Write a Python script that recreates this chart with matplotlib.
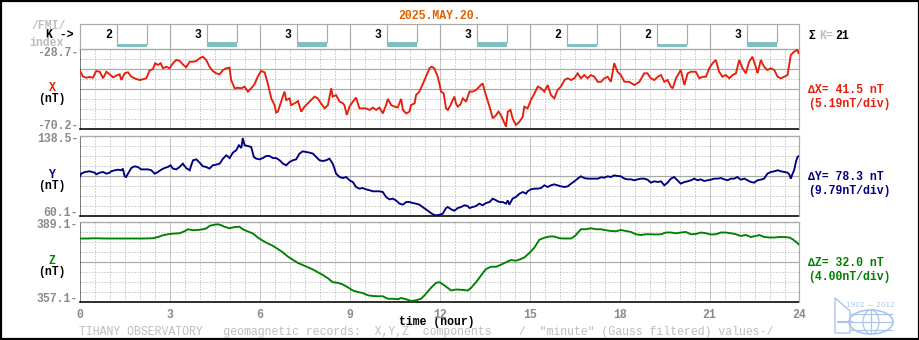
import matplotlib
matplotlib.use("Agg")
import matplotlib.pyplot as plt
from matplotlib.patches import Rectangle, Ellipse, Polygon

# ---------------- data ----------------
date_label = "2025.MAY.20."
k_index = [2, 3, 3, 3, 3, 2, 2, 3]
hour_ticks = [0, 3, 6, 9, 12, 15, 18, 21, 24]

x_limits = (-70.2, -28.7)
y_limits = (60.1, 138.5)
z_limits = (357.1, 389.1)
range_labels = ["41.5", "78.3", "32.0"]
div_labels = ["5.19", "9.79", "4.00"]

x_hours = [0.00, 0.10, 0.21, 0.32, 0.43, 0.54, 0.66, 0.77, 0.88, 0.99, 1.10, 1.21, 1.32, 1.38, 1.49, 1.60,
           1.71, 1.82, 1.99, 2.10, 2.21, 2.32, 2.43, 2.51, 2.60, 2.69, 2.77, 2.88, 2.99, 3.10, 3.21, 3.32,
           3.43, 3.54, 3.66, 3.77, 3.88, 3.99, 4.10, 4.21, 4.32, 4.43, 4.54, 4.66, 4.77, 4.88, 4.99, 5.04,
           5.16, 5.27, 5.38, 5.49, 5.60, 5.71, 5.82, 5.93, 6.04, 6.16, 6.27, 6.38, 6.49, 6.54, 6.60, 6.71,
           6.82, 6.88, 6.99, 7.04, 7.16, 7.27, 7.38, 7.49, 7.60, 7.71, 7.82, 7.93, 8.04, 8.16, 8.27, 8.38,
           8.43, 8.54, 8.66, 8.77, 8.82, 8.90, 8.99, 9.10, 9.21, 9.32, 9.43, 9.54, 9.66, 9.77, 9.88, 9.99,
           10.10, 10.21, 10.27, 10.38, 10.49, 10.60, 10.71, 10.77, 10.88, 10.99, 11.04, 11.16, 11.21, 11.32,
           11.43, 11.54, 11.66, 11.73, 11.82, 11.93,
           12.00, 12.04, 12.13, 12.21, 12.27, 12.36, 12.43, 12.49, 12.54, 12.60, 12.69, 12.77, 12.88, 12.99,
           13.10, 13.21, 13.32, 13.43, 13.54, 13.66, 13.77, 13.88, 13.96, 14.04, 14.16, 14.21, 14.27, 14.36,
           14.43, 14.54, 14.66, 14.77, 14.82, 14.93, 15.04, 15.16, 15.27, 15.38, 15.49, 15.60, 15.71, 15.82,
           15.93, 16.04, 16.16, 16.27, 16.38, 16.49, 16.60, 16.71, 16.82, 16.93, 17.04, 17.16, 17.27, 17.38,
           17.49, 17.60, 17.71, 17.82, 17.93, 18.04, 18.16, 18.32, 18.49, 18.66, 18.82, 18.93, 19.04, 19.16,
           19.27, 19.38, 19.49, 19.60, 19.71, 19.77, 19.88, 20.04, 20.16, 20.27, 20.38, 20.54, 20.66, 20.77,
           20.88, 20.99, 21.10, 21.21, 21.32, 21.43, 21.54, 21.66, 21.77, 21.88, 21.99, 22.10, 22.21, 22.32,
           22.43, 22.54, 22.60, 22.71, 22.82, 22.93, 23.04, 23.16, 23.27, 23.38, 23.49, 23.60, 23.71, 23.82,
           23.93, 23.97]
x_values = [-40.1, -43.0, -43.6, -43.2, -43.6, -40.1, -40.5, -43.9, -40.5, -41.8, -43.4, -42.5, -41.8, -44.8, -41.3, -40.8,
            -43.0, -43.9, -44.8, -44.4, -43.9, -39.9, -39.1, -36.1, -37.0, -36.1, -38.7, -37.9, -38.7, -36.1, -34.4, -34.8,
            -36.7, -38.2, -35.3, -35.3, -34.9, -33.5, -32.7, -34.4, -37.9, -40.1, -41.3, -41.8, -39.6, -38.7, -38.4, -44.8,
            -49.1, -48.8, -49.1, -48.2, -50.8, -49.1, -47.0, -43.0, -40.1, -40.8, -47.0, -54.3, -57.8, -61.7, -61.2, -56.0,
            -50.8, -55.2, -54.3, -57.8, -56.9, -55.7, -61.2, -58.6, -56.9, -55.2, -53.4, -54.3, -56.9, -59.5, -57.8, -49.1,
            -53.4, -52.6, -56.0, -56.9, -57.8, -62.9, -58.6, -56.0, -53.9, -59.5, -59.5, -59.5, -60.3, -59.1, -60.3, -59.1,
            -62.1, -57.8, -54.6, -57.8, -58.6, -59.0, -54.6, -60.3, -62.1, -61.2, -57.8, -56.9, -52.6, -50.8,
            -47.0, -43.0, -38.7, -37.9, -38.7, -43.0,
            -47.4, -50.8, -51.7, -59.5, -60.3, -57.8, -55.2, -53.4, -56.9, -58.6, -57.4, -54.3, -56.0, -50.8,
            -50.8, -50.0, -48.2, -46.5, -52.6, -58.6, -64.7, -63.0, -61.2, -63.0, -67.3, -69.0, -61.2, -60.3,
            -64.7, -68.1, -66.4, -63.8, -58.6, -59.5, -55.2, -51.7, -48.2, -49.1, -50.8, -47.4, -52.6, -54.3,
            -50.0, -48.2, -44.8, -43.9, -44.8, -43.9, -41.3, -43.9, -42.2, -43.9, -42.2, -43.1, -45.7, -45.7,
            -43.9, -43.1, -45.7, -36.1, -40.5, -42.2, -45.7, -45.7, -47.4, -45.7, -41.3, -41.3, -43.9, -44.8,
            -43.1, -42.2, -45.7, -44.8, -48.2, -49.1, -43.9, -39.6, -47.4, -41.3, -40.5, -40.5, -43.9, -43.1,
            -43.1, -38.7, -36.1, -34.4, -40.5, -43.1, -42.2, -43.9, -42.2, -41.3, -34.4, -38.7, -41.3, -35.3,
            -32.7, -37.9, -41.3, -34.4, -37.9, -39.6, -38.7, -39.6, -43.1, -43.9, -43.1, -42.2, -31.8, -30.1,
            -29.2, -30.9]

y_hours = [0.00, 0.04, 0.16, 0.32, 0.49, 0.54, 0.66, 0.77, 0.88, 0.99, 1.04, 1.16, 1.27, 1.38, 1.43, 1.49,
           1.54, 1.60, 1.71, 1.82, 1.93, 2.04, 2.16, 2.27, 2.38, 2.49, 2.60, 2.71, 2.82, 2.93, 3.02, 3.10,
           3.21, 3.32, 3.43, 3.54, 3.66, 3.71, 3.77, 3.88, 3.99, 4.10, 4.21, 4.32, 4.43, 4.54, 4.66, 4.77,
           4.88, 4.99, 5.10, 5.21, 5.30, 5.38, 5.43, 5.49, 5.60, 5.71, 5.80, 5.88, 5.99, 6.10, 6.21, 6.32,
           6.43, 6.54, 6.66, 6.77, 6.88, 6.99, 7.10, 7.21, 7.32, 7.43, 7.54, 7.66, 7.77, 7.88, 7.99, 8.10,
           8.21, 8.32, 8.43, 8.49, 8.54, 8.66, 8.77, 8.88, 8.99, 9.10, 9.21, 9.32, 9.43, 9.54, 9.66, 9.77,
           9.88, 9.99, 10.10, 10.21, 10.32, 10.43, 10.54, 10.66, 10.77, 10.88, 10.99, 11.10, 11.21, 11.32,
           11.43, 11.54, 11.66, 11.77, 11.88,
           12.00, 12.10, 12.21, 12.27, 12.38, 12.49, 12.60, 12.71, 12.82, 12.93, 12.99, 13.10, 13.21, 13.32,
           13.43, 13.54, 13.66, 13.77, 13.88, 13.99, 14.10, 14.21, 14.27, 14.32, 14.43, 14.54, 14.66, 14.77,
           14.88, 14.93, 15.04, 15.16, 15.27, 15.38, 15.49, 15.60, 15.71, 15.82, 15.93, 16.04, 16.16, 16.27,
           16.38, 16.49, 16.60, 16.71, 16.82, 16.93, 17.04, 17.16, 17.27, 17.38, 17.49, 17.60, 17.71, 17.82,
           17.93, 18.04, 18.16, 18.27, 18.38, 18.49, 18.60, 18.71, 18.82, 18.93, 19.04, 19.16, 19.27, 19.38,
           19.49, 19.60, 19.71, 19.82, 19.93, 20.04, 20.16, 20.27, 20.38, 20.49, 20.60, 20.71, 20.82, 20.93,
           21.04, 21.16, 21.27, 21.38, 21.49, 21.60, 21.71, 21.82, 21.93, 22.04, 22.16, 22.27, 22.38, 22.49,
           22.60, 22.71, 22.82, 22.93, 23.04, 23.16, 23.27, 23.38, 23.49, 23.60, 23.66, 23.71, 23.77, 23.82,
           23.88, 23.93, 23.99]
y_values = [99.0, 101.6, 103.2, 103.9, 102.6, 100.9, 102.6, 103.2, 101.6, 102.6, 103.9, 104.9, 105.5, 104.9, 106.5, 99.0,
            98.3, 101.6, 107.1, 108.8, 108.1, 105.8, 105.8, 105.8, 104.9, 101.6, 103.2, 105.5, 107.1, 108.1, 109.8, 106.5,
            105.8, 108.1, 111.4, 107.1, 104.9, 109.8, 114.7, 115.6, 112.4, 108.8, 108.1, 106.5, 109.8, 110.4, 111.4, 116.3,
            119.6, 116.9, 122.2, 124.5, 129.4, 126.7, 136.5, 129.4, 128.7, 127.7, 117.9, 116.3, 115.6, 116.9, 118.9, 118.9,
            116.9, 116.9, 114.7, 111.4, 109.8, 113.0, 114.7, 115.6, 121.2, 123.5, 122.8, 122.2, 121.2, 117.9, 114.7, 114.0,
            114.7, 116.3, 111.4, 106.5, 101.6, 98.3, 97.3, 98.3, 95.1, 93.4, 88.5, 86.9, 87.5, 86.2, 85.3, 84.3,
            84.3, 84.3, 83.6, 78.7, 76.4, 77.1, 75.4, 72.2, 71.2, 73.8, 73.8, 72.8, 72.2, 71.2,
            68.9, 66.6, 64.0, 61.7, 60.7,
            61.4, 62.4, 67.9, 68.9, 66.6, 65.3, 67.9, 68.9, 70.6, 69.9, 67.9, 68.9, 69.9, 72.2,
            70.6, 72.8, 73.8, 77.1, 75.4, 73.8, 73.8, 72.2, 75.4, 71.2, 77.1, 78.7, 82.0, 83.6,
            82.0, 84.3, 86.2, 86.9, 86.9, 87.5, 90.2, 88.5, 90.2, 91.1, 90.2, 89.2, 88.5, 89.2,
            91.8, 94.1, 96.7, 99.0, 97.3, 96.7, 96.7, 96.7, 96.7, 98.0, 97.7, 99.0, 98.3, 99.9,
            99.3, 99.0, 96.7, 96.0, 96.0, 95.1, 96.0, 96.7, 96.7, 95.7, 92.8, 94.1, 93.4, 94.1,
            90.2, 92.8, 96.7, 98.3, 95.1, 91.8, 93.4, 94.1, 95.1, 96.7, 95.1, 96.0, 94.4, 95.1,
            95.7, 96.7, 96.7, 97.3, 96.0, 95.1, 96.7, 96.7, 98.3, 95.7, 96.7, 95.1, 93.4, 92.8,
            95.1, 95.7, 96.7, 101.6, 103.2, 103.9, 104.9, 103.9, 103.2, 102.6, 100.9, 96.7, 101.6, 104.9,
            113.0, 117.9, 118.9]

z_hours = [0.00, 0.27, 0.49, 0.82, 1.16, 1.38, 1.71, 2.16, 2.43, 2.60, 2.77, 2.93, 3.16, 3.32, 3.49, 3.60,
           3.77, 3.93, 4.10, 4.21, 4.32, 4.43, 4.60, 4.71, 4.82, 4.99, 5.16, 5.32, 5.43, 5.60, 5.77, 5.93,
           6.10, 6.27, 6.43, 6.60, 6.77, 6.93, 7.10, 7.27, 7.43, 7.60, 7.77, 7.93, 8.10, 8.27, 8.43, 8.60,
           8.77, 8.93, 9.10, 9.27, 9.43, 9.60, 9.77, 9.93, 10.10, 10.27, 10.43, 10.60, 10.71, 10.88, 11.04, 11.21,
           11.38, 11.54, 11.71, 11.88,
           12.00, 12.16, 12.38, 12.54, 12.71, 12.93, 13.04, 13.21, 13.38, 13.54, 13.71, 13.88, 14.04, 14.21,
           14.38, 14.54, 14.71, 14.82, 14.99, 15.16, 15.32, 15.49, 15.66, 15.82, 15.99, 16.16, 16.38, 16.51,
           16.66, 16.71, 16.88, 17.04, 17.21, 17.38, 17.54, 17.71, 17.88, 18.04, 18.21, 18.38, 18.54, 18.71,
           18.88, 19.04, 19.21, 19.38, 19.54, 19.71, 19.88, 20.04, 20.21, 20.38, 20.54, 20.71, 20.88, 21.04,
           21.21, 21.38, 21.54, 21.71, 21.88, 22.04, 22.21, 22.38, 22.54, 22.66, 22.82, 22.99, 23.16, 23.32,
           23.49, 23.66, 23.77, 23.88, 23.99]
z_values = [382.5, 382.5, 382.6, 382.5, 382.5, 382.5, 382.5, 382.5, 382.6, 383.1, 383.8, 384.2, 384.5, 384.6, 385.4, 386.2,
            385.8, 385.9, 386.2, 386.5, 387.5, 387.9, 388.2, 387.8, 387.2, 386.6, 387.1, 387.2, 386.2, 385.3, 384.5, 382.9,
            381.6, 380.5, 379.6, 378.3, 376.9, 375.3, 374.0, 372.7, 371.9, 371.0, 370.1, 369.0, 367.9, 366.6, 365.0, 364.8,
            364.1, 363.0, 361.7, 361.1, 360.7, 359.8, 359.5, 359.4, 359.4, 358.4, 358.4, 358.2, 358.7, 358.2, 357.5, 357.8,
            358.4, 360.4, 362.8, 364.8,
            365.0, 363.7, 361.7, 362.1, 362.0, 361.7, 362.7, 365.0, 367.7, 370.3, 371.2, 371.2, 372.0, 373.0,
            373.9, 373.6, 374.3, 374.9, 376.7, 378.9, 382.0, 382.8, 383.3, 383.3, 382.6, 382.5, 382.5, 383.5,
            385.5, 386.2, 386.2, 386.6, 386.2, 386.2, 385.8, 385.5, 385.4, 385.9, 385.5, 385.1, 384.2, 383.9,
            384.2, 384.2, 384.1, 384.2, 384.9, 384.9, 384.6, 384.9, 385.1, 384.2, 384.3, 384.9, 384.6, 384.1,
            384.2, 384.9, 384.9, 384.6, 384.2, 383.5, 383.9, 383.1, 383.5, 383.9, 383.1, 382.9, 382.9, 383.1,
            383.1, 382.9, 382.2, 381.2, 380.0]

# ---------------- styling ----------------
W, H = 920, 340
MONO = ["Liberation Mono", "DejaVu Sans Mono"]
FS = 8.3
GRID = "#aaaaaa"
TICKGREY = "#8a8a8a"
LIGHT = "#bdbdbd"
RED, NAVY, GREEN = "#e4200c", "#000080", "#008000"
TEAL = "#80c0c0"
PX = 0.72  # one pixel in points

fig = plt.figure(figsize=(W / 100, H / 100), dpi=100)
fig.patch.set_facecolor("white")

# pixel overlay for texts, border, logo
bg = fig.add_axes([0, 0, 1, 1], zorder=0)
bg.set_xlim(0, W)
bg.set_ylim(H, 0)
bg.axis("off")

L, R = 80, 799.5


def axes_px(top, bottom):
    a = fig.add_axes([L / W, 1 - bottom / H, (R - L) / W, (bottom - top) / H], zorder=2)
    a.patch.set_alpha(0)
    for s in a.spines.values():
        s.set_visible(False)
    a.set_xlim(0, 24)
    a.set_xticks([])
    a.set_yticks([])
    return a


def txt(x, y, s, color="black", ha="center", weight="bold", size=FS):
    bg.text(x, y, s, color=color, ha=ha, va="center", family=MONO, weight=weight, size=size)


# ---- K-index strip ----
ak = axes_px(24, 49)
ak.set_ylim(0, 25)
ak.axhline(25, color=GRID, lw=1.2 * PX, clip_on=False)
for i, k in enumerate(k_index):
    t0 = 3 * i
    ak.plot([t0, t0], [0, 25], color=GRID, lw=1.2 * PX, clip_on=False)
    bar_h = 2 * k - 1
    ak.add_patch(Rectangle((t0 + 1.25, 2), 1.0, bar_h, color=TEAL, lw=0))
    for e in (1.25, 2.25):
        ak.plot([t0 + e, t0 + e], [2 + bar_h, 25], color=GRID, lw=1.2 * PX)
    ak.text(t0 + 0.95, 14, str(k), ha="center", va="center", family=MONO, weight="bold", size=FS)
ak.plot([24, 24], [0, 25], color=GRID, lw=1.2 * PX, clip_on=False)

# ---- panels ----
panels = [
    (49, 129, x_limits, x_hours, x_values, RED, "X", [4, 6]),
    (136, 216, y_limits, y_hours, y_values, NAVY, "Y", [4]),
    (222, 302, z_limits, z_hours, z_values, GREEN, "Z", [4]),
]
axes = []
for top, bottom, lim, hrs, vals, col, name, solid in panels:
    a = axes_px(top, bottom)
    lo, hi = lim
    a.set_ylim(lo, hi)
    step = (hi - lo) / 8
    for kk in range(1, 8):
        yv = lo + kk * step
        if kk in solid:
            a.axhline(yv, color=GRID, lw=1.2 * PX, zorder=1)
        else:
            a.axhline(yv, color=GRID, lw=PX, ls=(0, (1, 2)), zorder=1)
    for hh in range(1, 48):
        h = hh / 2
        if hh % 6 == 0:
            a.axvline(h, color="#8c8c8c", lw=PX, ls=(0, (1, 1)), zorder=1)
        else:
            a.axvline(h, color=GRID, lw=PX, ls=(0, (1, 2)), zorder=1)
    a.axhline(hi, color=GRID, lw=1.4 * PX, clip_on=False, zorder=1)
    a.axhline(lo, color="black", lw=1.6 * PX, clip_on=False, zorder=1)
    a.axvline(0, color="black", lw=PX, ls=(0, (1, 1)), clip_on=False, zorder=1)
    a.axvline(24, color=GRID, lw=1.2 * PX, clip_on=False, zorder=1)
    a.plot(hrs, vals, color=col, lw=1.35, zorder=3, solid_joinstyle="miter")
    # left labels
    txt(78, top + 3.5, f"{hi:.1f}-", color=TICKGREY, ha="right")
    txt(78, bottom - 3, f"{lo:.1f}-", color=TICKGREY, ha="right")
    mid = (top + bottom) / 2
    txt(52, mid - 1, name, color=col)
    txt(52, mid + 10, "(nT)")
    axes.append(a)

az = axes[2]
az.set_xticks(hour_ticks)
az.set_xticklabels([str(h) for h in hour_ticks], color=TICKGREY, family=MONO, weight="bold", size=FS)
az.tick_params(axis="x", length=0, pad=5)

# ---- header texts ----
txt(440, 16, date_label, color="#e06000")
txt(49, 26, "/FMI/", color=LIGHT)
txt(60, 35, "K ->")
txt(47, 43, "index", color=LIGHT)

txt(809, 36, "\u03a3", ha="left")
txt(819, 36, "K=", color=LIGHT, ha="left")
txt(835, 36, str(sum(k_index)), ha="left")

# ---- right labels ----
for (top, bottom, lim, hrs, vals, col, name, solid), rng, dv in zip(panels, range_labels, div_labels):
    mid = (top + bottom) / 2
    txt(808, mid + 1, f"\u2206{name}= {rng} nT", color=col, ha="left")
    txt(808, mid + 15, f"({dv}nT/div)", color=col, ha="left")

# ---- bottom texts ----
txt(437, 322.5, "time (hour)")
txt(79, 332, 'TIHANY OBSERVATORY   geomagnetic records:  X,Y,Z  components    /  "minute" (Gauss filtered) values-/',
    color=LIGHT, ha="left", weight="normal")

# ---- logo ----
LOGO = "#a9c6ea"
bg.text(870, 305, "1902 \u2014 2012", color=LOGO, ha="center", va="center", family="DejaVu Sans", size=5.2)
bg.add_patch(Polygon([(835, 298), (850, 311), (850, 333), (835, 333)], closed=True, fill=False, ec=LOGO, lw=1.0))
bg.add_patch(Ellipse((871, 322), 44, 24, fill=False, ec=LOGO, lw=1.2))
bg.add_patch(Ellipse((871, 322), 16, 24, fill=False, ec=LOGO, lw=0.9))
for yy in (314, 322, 330):
    bg.plot([850, 892], [yy, yy], color=LOGO, lw=0.9)
bg.plot([871, 871], [310, 334], color=LOGO, lw=0.9)
bg.plot([838, 852], [322, 322], color=LOGO, lw=1.5)

# ---- figure border ----
bg.add_patch(Rectangle((0.5, 0.8), W - 1.5, H - 1.8, fill=False, ec="black", lw=1.6))

fig.savefig("out.png", dpi=100, facecolor="white")
